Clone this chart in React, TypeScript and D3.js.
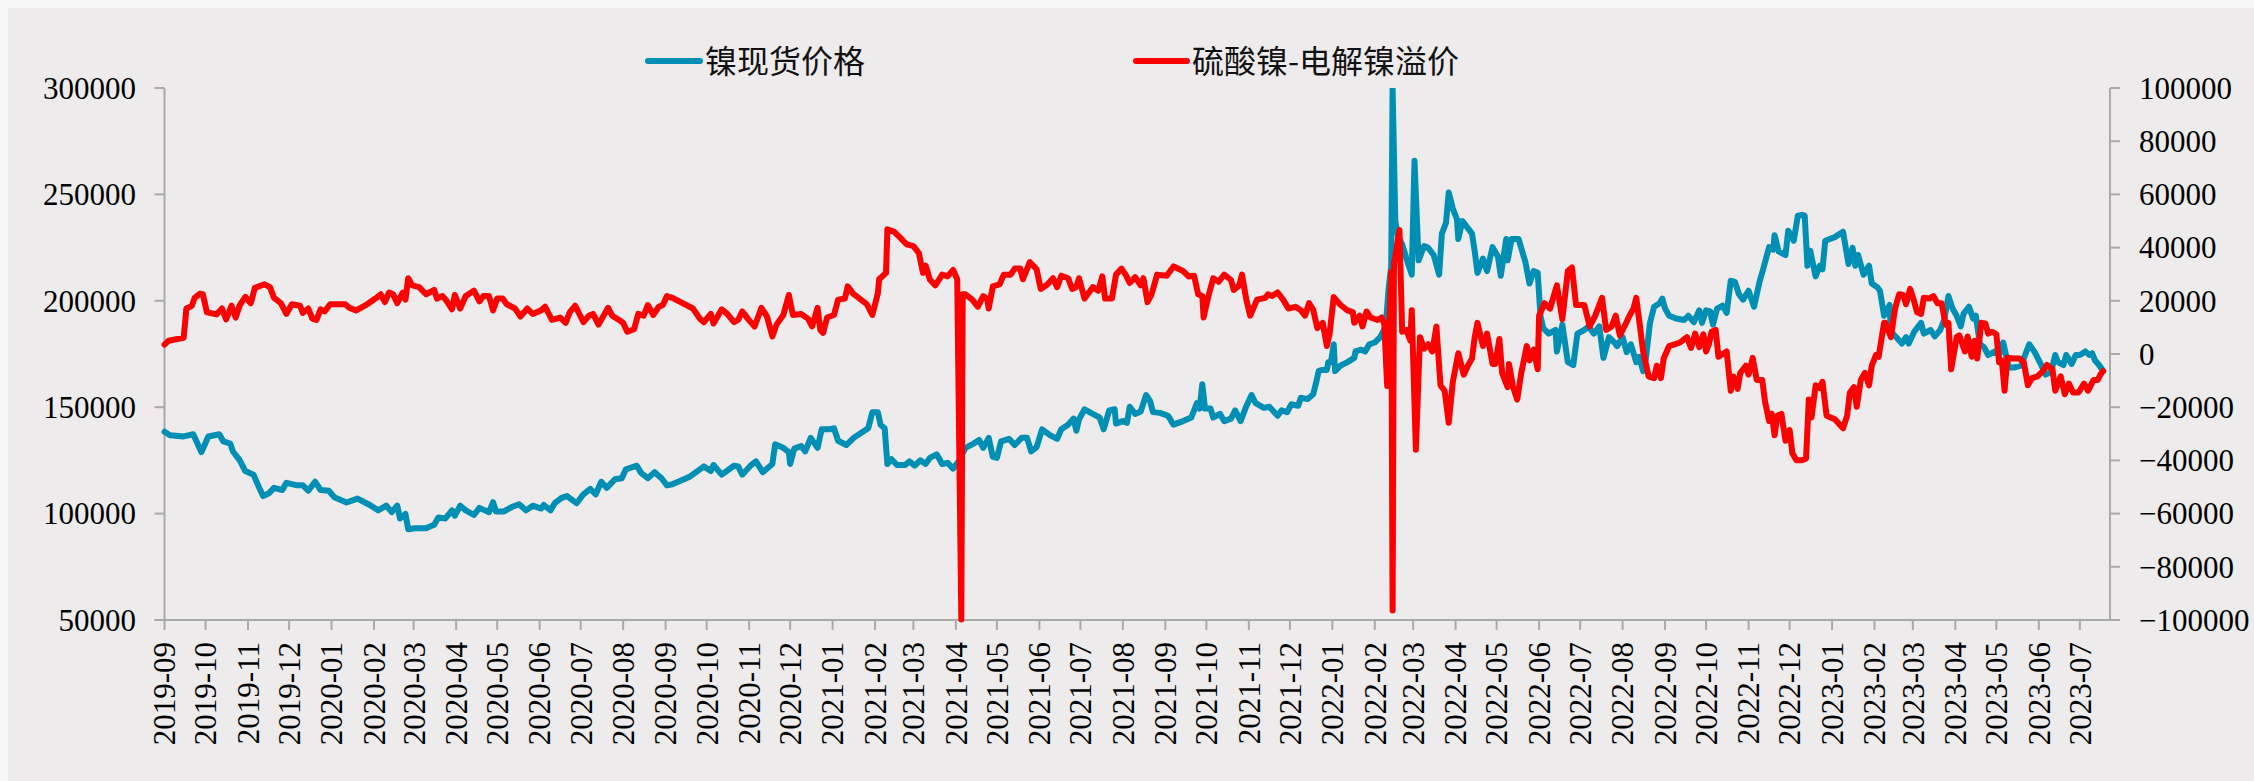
import React from 'react';
import * as d3 from 'd3';

// ---------- DATA ----------
const seriesNames = ['镍现货价格', '硫酸镍-电解镍溢价'];
const seriesColors = ['#008fb4', '#ff0000'];

const monthTicks = [
  '2019-09','2019-10','2019-11','2019-12','2020-01','2020-02','2020-03','2020-04','2020-05','2020-06',
  '2020-07','2020-08','2020-09','2020-10','2020-11','2020-12','2021-01','2021-02','2021-03','2021-04',
  '2021-05','2021-06','2021-07','2021-08','2021-09','2021-10','2021-11','2021-12','2022-01','2022-02',
  '2022-03','2022-04','2022-05','2022-06','2022-07','2022-08','2022-09','2022-10','2022-11','2022-12',
  '2023-01','2023-02','2023-03','2023-04','2023-05','2023-06','2023-07'
];
const leftTicks = [50000, 100000, 150000, 200000, 250000, 300000];
const rightTicks = [-100000, -80000, -60000, -40000, -20000, 0, 20000, 40000, 60000, 80000, 100000];
const dateRange = ['2019-09-01', '2023-07-23'];

// 镍现货价格 (left axis)
const nickelSpot: [string, number][] = [
['2019-09-01',138450],['2019-09-05',136770],['2019-09-15',136260],['2019-09-22',137270],['2019-09-28',128880],
['2019-10-03',136260],['2019-10-11',137270],['2019-10-14',133900],['2019-10-19',132900],['2019-10-21',129200],
['2019-10-26',125000],['2019-10-30',120000],['2019-11-05',118300],['2019-11-09',112400],['2019-11-12',108240],
['2019-11-16',109410],['2019-11-20',112100],['2019-11-26',111090],['2019-11-29',114440],['2019-12-07',113270],
['2019-12-11',113270],['2019-12-15',110750],['2019-12-20',114950],['2019-12-24',111090],['2019-12-30',110750],
['2020-01-03',107740],['2020-01-12',105200],['2020-01-20',107060],['2020-01-29',104050],['2020-02-04',101520],
['2020-02-10',103710],['2020-02-14',100690],['2020-02-18',103710],['2020-02-20',97660],['2020-02-24',99850],
['2020-02-26',92630],['2020-03-02',93130],['2020-03-10',93130],['2020-03-16',94800],['2020-03-19',98160],
['2020-03-24',97660],['2020-03-29',101520],['2020-03-31',99000],['2020-04-04',103710],['2020-04-08',101520],
['2020-04-14',99340],['2020-04-18',102700],['2020-04-22',101520],['2020-04-25',100690],['2020-04-28',105380],
['2020-04-30',101030],['2020-05-06',101030],['2020-05-12',103200],['2020-05-17',104380],['2020-05-22',101520],
['2020-05-27',103710],['2020-06-02',102360],['2020-06-04',104040],['2020-06-09',101520],['2020-06-12',104880],
['2020-06-17',107400],['2020-06-21',108240],['2020-06-28',104880],['2020-07-03',109080],['2020-07-08',111600],
['2020-07-12',109080],['2020-07-16',114950],['2020-07-20',112100],['2020-07-26',116120],['2020-07-31',116630],
['2020-08-03',120830],['2020-08-11',122500],['2020-08-14',119150],['2020-08-19',116630],['2020-08-24',119480],
['2020-08-29',116630],['2020-09-02',113270],['2020-09-06',113770],['2020-09-19',117460],['2020-09-29',122170],
['2020-10-04',119990],['2020-10-06',122840],['2020-10-12',118300],['2020-10-21',122500],['2020-10-24',122170],
['2020-10-27',118300],['2020-11-02',122500],['2020-11-06',124520],['2020-11-11',119480],['2020-11-18',123340],
['2020-11-20',132570],['2020-11-26',130890],['2020-11-30',128880],['2020-12-01',123340],['2020-12-04',130560],
['2020-12-09',131730],['2020-12-12',129210],['2020-12-16',135590],['2020-12-21',130890],['2020-12-24',139620],
['2020-12-30',139620],['2021-01-02',140120],['2021-01-05',134250],['2021-01-11',132240],['2021-01-17',135930],
['2021-01-27',140120],['2021-01-30',147680],['2021-02-03',147680],['2021-02-05',141800],['2021-02-08',140120],
['2021-02-10',123340],['2021-02-13',125520],['2021-02-17',122840],['2021-02-23',122840],['2021-02-26',124520],
['2021-03-02',122500],['2021-03-06',125020],['2021-03-10',123340],['2021-03-13',126190],['2021-03-18',127870],
['2021-03-22',123340],['2021-03-26',123840],['2021-03-30',121150],['2021-04-03',124520],['2021-04-08',130890],
['2021-04-14',132900],['2021-04-18',134580],['2021-04-21',130890],['2021-04-25',135590],['2021-04-28',126690],
['2021-05-01',126190],['2021-05-04',133910],['2021-05-10',135090],['2021-05-14',132240],['2021-05-19',135590],
['2021-05-23',135590],['2021-05-26',129210],['2021-05-30',131230],['2021-06-03',139620],['2021-06-09',136770],
['2021-06-14',135090],['2021-06-17',139620],['2021-06-22',141800],['2021-06-26',144660],['2021-06-28',138950],
['2021-06-30',144320],['2021-07-04',149020],['2021-07-10',146840],['2021-07-15',145160],['2021-07-18',139620],
['2021-07-22',148510],['2021-07-26',149020],['2021-07-27',142310],['2021-08-01',143480],['2021-08-04',142640],
['2021-08-06',150190],['2021-08-10',146840],['2021-08-14',148010],['2021-08-18',155730],['2021-08-21',152710],
['2021-08-23',147680],['2021-08-28',147340],['2021-09-03',146000],['2021-09-07',141800],['2021-09-14',143480],
['2021-09-20',145160],['2021-09-24',151870],['2021-09-26',149360],['2021-09-28',160770],['2021-09-30',149360],
['2021-10-04',149360],['2021-10-06',145160],['2021-10-11',146840],['2021-10-14',143480],['2021-10-19',144660],
['2021-10-22',148510],['2021-10-26',143480],['2021-10-30',150190],['2021-11-03',155730],['2021-11-06',151870],
['2021-11-12',149690],['2021-11-16',150190],['2021-11-22',146000],['2021-11-25',148510],['2021-11-29',147680],
['2021-12-02',151370],['2021-12-07',150700],['2021-12-09',154390],['2021-12-14',153890],['2021-12-18',156070],
['2021-12-20',161100],['2021-12-22',166980],['2021-12-24',167480],['2021-12-28',167480],['2021-12-29',171170],
['2021-12-31',171170],['2022-01-02',179570],['2022-01-03',166980],['2022-01-07',169500],['2022-01-12',171170],
['2022-01-17',173180],['2022-01-18',176200],['2022-01-22',177040],['2022-01-25',176200],['2022-01-28',179570],
['2022-02-01',180410],['2022-02-05',182920],['2022-02-09',188000],['2022-02-11',205000],['2022-02-13',216480],
['2022-02-14',300000],['2022-02-16',237470],['2022-02-18',230000],['2022-02-21',226560],['2022-02-25',218000],
['2022-02-28',212290],['2022-03-02',265800],['2022-03-05',219000],['2022-03-09',225720],['2022-03-12',224880],
['2022-03-16',221520],['2022-03-20',212290],['2022-03-22',231590],['2022-03-25',236620],['2022-03-27',250890],
['2022-03-30',243340],['2022-04-02',238310],['2022-04-03',229070],['2022-04-06',237470],['2022-04-09',234950],
['2022-04-13',231590],['2022-04-15',223200],['2022-04-17',213130],['2022-04-21',219840],['2022-04-24',213970],
['2022-04-28',225220],['2022-05-02',220680],['2022-05-04',211790],['2022-05-08',229070],['2022-05-09',219000],
['2022-05-12',229070],['2022-05-17',229070],['2022-05-22',218170],['2022-05-25',208100],['2022-05-28',213970],
['2022-05-31',213130],['2022-06-02',192990],['2022-06-04',187120],['2022-06-08',184600],['2022-06-13',186280],
['2022-06-14',176200],['2022-06-18',188790],['2022-06-22',171170],['2022-06-26',169830],['2022-06-29',184600],
['2022-07-04',186280],['2022-07-07',187960],['2022-07-11',184600],['2022-07-15',187960],['2022-07-18',173180],
['2022-07-22',182920],['2022-07-26',180410],['2022-07-28',178730],['2022-08-01',182920],['2022-08-04',175870],
['2022-08-07',179570],['2022-08-11',171170],['2022-08-13',173690],['2022-08-16',166980],['2022-08-18',172850],
['2022-08-21',189630],['2022-08-24',197200],['2022-08-28',198870],['2022-08-30',201050],['2022-09-01',196350],
['2022-09-04',192990],['2022-09-09',191650],['2022-09-15',190980],['2022-09-18',192990],['2022-09-22',189970],
['2022-09-26',195510],['2022-09-28',189630],['2022-10-01',195510],['2022-10-04',195000],['2022-10-06',188790],
['2022-10-09',196350],['2022-10-13',197690],['2022-10-16',194330],['2022-10-19',209430],['2022-10-22',208930],
['2022-10-25',203060],['2022-10-28',200540],['2022-11-01',204740],['2022-11-05',197190],['2022-11-09',208930],
['2022-11-12',215640],['2022-11-16',225220],['2022-11-19',224040],['2022-11-20',230760],['2022-11-23',223200],
['2022-11-28',221520],['2022-11-30',232940],['2022-12-04',228240],['2022-12-07',239980],['2022-12-10',240320],
['2022-12-12',239980],['2022-12-14',216480],['2022-12-16',223530],['2022-12-20',211450],['2022-12-23',216480],
['2022-12-25',214810],['2022-12-27',228240],['2023-01-03',229920],['2023-01-09',232440],['2023-01-13',217330],
['2023-01-16',224880],['2023-01-18',216480],['2023-01-20',221520],['2023-01-24',212290],['2023-01-28',216480],
['2023-01-30',208100],['2023-02-03',206420],['2023-02-05',204740],['2023-02-08',192990],['2023-02-12',198030],
['2023-02-13',185440],['2023-02-18',182080],['2023-02-21',179900],['2023-02-24',182920],['2023-02-26',179900],
['2023-03-02',185440],['2023-03-07',189630],['2023-03-09',184600],['2023-03-14',186280],['2023-03-17',183260],
['2023-03-21',186280],['2023-03-24',191310],['2023-03-27',202220],['2023-03-30',196350],['2023-04-02',192990],
['2023-04-05',187960],['2023-04-07',193830],['2023-04-11',197190],['2023-04-14',191650],['2023-04-16',192990],
['2023-04-19',179570],['2023-04-22',178230],['2023-04-25',174530],['2023-04-30',176200],['2023-05-03',174530],
['2023-05-06',180410],['2023-05-10',168650],['2023-05-14',168650],['2023-05-19',169500],['2023-05-22',174530],
['2023-05-25',179570],['2023-05-29',175870],['2023-06-03',169500],['2023-06-06',165300],['2023-06-10',166480],
['2023-06-13',174530],['2023-06-15',171170],['2023-06-19',169830],['2023-06-21',174530],['2023-06-25',170330],
['2023-06-28',174530],['2023-07-01',174530],['2023-07-05',176200],['2023-07-08',174530],['2023-07-10',175370],
['2023-07-12',172010],['2023-07-15',169830],['2023-07-18',167000]
];

// 硫酸镍-电解镍溢价 (right axis)
const premium: [string, number][] = [
['2019-09-01',3500],['2019-09-04',5000],['2019-09-15',6100],['2019-09-17',17100],['2019-09-21',18100],
['2019-09-23',21100],['2019-09-27',22700],['2019-09-29',22450],['2019-10-02',15700],['2019-10-09',14900],
['2019-10-13',17100],['2019-10-16',13000],['2019-10-20',18150],['2019-10-23',13700],['2019-10-26',18400],
['2019-10-30',21500],['2019-11-03',19100],['2019-11-06',24870],['2019-11-13',26200],['2019-11-17',25140],
['2019-11-20',21100],['2019-11-25',19100],['2019-11-29',15070],['2019-12-03',18700],['2019-12-09',18150],
['2019-12-11',15470],['2019-12-15',17100],['2019-12-18',13300],['2019-12-21',12800],['2019-12-24',16800],
['2019-12-27',16000],['2019-12-31',18700],['2020-01-11',18700],['2020-01-14',17350],['2020-01-19',16400],
['2020-01-27',18700],['2020-02-02',20840],['2020-02-06',22450],['2020-02-09',19500],['2020-02-12',23100],
['2020-02-15',22450],['2020-02-18',19100],['2020-02-22',23100],['2020-02-24',20400],['2020-02-26',28500],
['2020-02-29',25800],['2020-03-05',25140],['2020-03-10',22450],['2020-03-16',24060],['2020-03-18',20840],
['2020-03-22',21800],['2020-03-25',20000],['2020-03-29',16800],['2020-03-31',22200],['2020-04-04',17100],
['2020-04-08',21800],['2020-04-14',23800],['2020-04-18',19800],['2020-04-21',21800],['2020-04-25',21800],
['2020-04-28',16400],['2020-05-01',20840],['2020-05-05',20840],['2020-05-08',18700],['2020-05-14',17100],
['2020-05-18',14100],['2020-05-23',17100],['2020-05-27',15070],['2020-06-02',16400],['2020-06-05',17750],
['2020-06-10',12800],['2020-06-16',13700],['2020-06-20',11700],['2020-06-23',15700],['2020-06-27',18150],
['2020-07-03',11980],['2020-07-07',14400],['2020-07-10',15070],['2020-07-14',11040],['2020-07-21',17350],
['2020-07-24',14400],['2020-07-29',12800],['2020-08-01',11700],['2020-08-04',8350],['2020-08-09',9300],
['2020-08-12',15070],['2020-08-16',14400],['2020-08-19',18400],['2020-08-23',14670],['2020-08-27',17750],
['2020-08-30',18400],['2020-09-02',21800],['2020-09-06',21100],['2020-09-21',17100],['2020-09-26',13300],
['2020-09-29',11980],['2020-10-04',15070],['2020-10-06',11450],['2020-10-12',16800],['2020-10-16',15070],
['2020-10-21',11980],['2020-10-24',12800],['2020-10-27',16000],['2020-10-31',13300],['2020-11-05',10370],
['2020-11-10',17350],['2020-11-14',14130],['2020-11-18',6600],['2020-11-21',11040],['2020-11-26',14670],
['2020-11-30',22200],['2020-12-03',14670],['2020-12-09',15070],['2020-12-14',13300],['2020-12-17',10370],
['2020-12-21',17350],['2020-12-23',9030],['2020-12-25',7950],['2020-12-28',13700],['2021-01-02',14670],
['2021-01-05',20440],['2021-01-10',20840],['2021-01-12',25410],['2021-01-16',22720],['2021-01-26',18700],
['2021-01-30',14670],['2021-02-03',22720],['2021-02-04',28090],['2021-02-09',30500],['2021-02-10',46890],
['2021-02-15',45950],['2021-02-19',43930],['2021-02-24',41250],['2021-03-01',40580],['2021-03-05',37900],
['2021-03-08',30500],['2021-03-10',33190],['2021-03-13',28000],['2021-03-17',25810],['2021-03-22',29840],
['2021-03-26',29170],['2021-03-30',31580],['2021-04-02',28090],['2021-04-05',-99800],['2021-04-06',22450],
['2021-04-08',22450],['2021-04-13',20440],['2021-04-17',17750],['2021-04-21',21780],['2021-04-24',20440],
['2021-04-25',17080],['2021-04-28',25410],['2021-05-03',26210],['2021-05-06',29840],['2021-05-11',29840],
['2021-05-14',32120],['2021-05-18',32120],['2021-05-20',28090],['2021-05-25',34530],['2021-05-30',31850],
['2021-06-02',24460],['2021-06-07',26210],['2021-06-11',28490],['2021-06-14',25140],['2021-06-17',29430],
['2021-06-22',28490],['2021-06-25',24460],['2021-06-28',25140],['2021-06-30',28490],['2021-07-04',20840],
['2021-07-10',25140],['2021-07-14',23790],['2021-07-17',29170],['2021-07-19',20840],['2021-07-24',20840],
['2021-07-27',29840],['2021-07-31',32120],['2021-08-03',29840],['2021-08-06',26750],['2021-08-10',28900],
['2021-08-14',25810],['2021-08-16',28490],['2021-08-19',19500],['2021-08-22',22450],['2021-08-26',29840],
['2021-09-02',29430],['2021-09-07',32920],['2021-09-14',31180],['2021-09-18',29170],['2021-09-22',29430],
['2021-09-25',22450],['2021-09-28',21780],['2021-09-29',13730],['2021-10-02',20840],['2021-10-06',28490],
['2021-10-10',27150],['2021-10-14',29840],['2021-10-19',27820],['2021-10-21',24060],['2021-10-25',25810],
['2021-10-27',29840],['2021-10-30',20840],['2021-11-02',14400],['2021-11-07',20440],['2021-11-13',21110],
['2021-11-15',22450],['2021-11-18',21780],['2021-11-22',23120],['2021-11-26',20440],['2021-11-30',17080],
['2021-12-05',17750],['2021-12-09',16410],['2021-12-12',14400],['2021-12-15',19100],['2021-12-18',16700],
['2021-12-21',9700],['2021-12-25',11710],['2021-12-28',2980],['2021-12-30',7680],['2022-01-02',21380],
['2022-01-07',18420],['2022-01-12',16410],['2022-01-16',15740],['2022-01-17',11710],['2022-01-21',14400],
['2022-01-23',10370],['2022-01-26',16000],['2022-01-29',13730],['2022-02-03',12790],['2022-02-06',13730],
['2022-02-08',11000],['2022-02-10',-12000],['2022-02-13',30830],['2022-02-14',-96400],['2022-02-15',33720],
['2022-02-19',46650],['2022-02-21',8350],['2022-02-24',9030],['2022-02-27',4990],['2022-02-28',16410],
['2022-03-03',-35950],['2022-03-06',6340],['2022-03-09',2040],['2022-03-12',3660],['2022-03-15',970],
['2022-03-18',10370],['2022-03-21',-11780],['2022-03-24',-13800],['2022-03-27',-25880],['2022-03-30',-10440],
['2022-04-03',300],['2022-04-07',-7760],['2022-04-10',-4400],['2022-04-13',-1720],['2022-04-15',6340],
['2022-04-17',11710],['2022-04-21',2980],['2022-04-24',7680],['2022-04-28',-3730],['2022-04-30',-3730],
['2022-05-03',5670],['2022-05-05',-7090],['2022-05-09',-12460],['2022-05-10',-3730],['2022-05-13',-12460],
['2022-05-16',-17150],['2022-05-19',-7090],['2022-05-23',2980],['2022-05-25',-2390],['2022-05-28',1640],
['2022-05-31',-5740],['2022-06-01',14400],['2022-06-05',19100],['2022-06-09',17080],['2022-06-14',25810],
['2022-06-18',13060],['2022-06-22',31180],['2022-06-25',32520],['2022-06-28',18420],['2022-07-04',18420],
['2022-07-08',10370],['2022-07-12',14400],['2022-07-17',21110],['2022-07-20',9030],['2022-07-24',10370],
['2022-07-27',14400],['2022-07-30',7010],['2022-08-03',11040],['2022-08-06',14400],['2022-08-09',17080],
['2022-08-11',21110],['2022-08-14',9030],['2022-08-16',970],['2022-08-20',-8430],['2022-08-24',-9100],
['2022-08-26',-4400],['2022-08-29',-9100],['2022-08-31',-1720],['2022-09-04',2980],['2022-09-12',4330],
['2022-09-17',6340],['2022-09-20',2300],['2022-09-23',7680],['2022-09-26',2580],['2022-09-29',7420],
['2022-10-01',970],['2022-10-03',3660],['2022-10-05',8350],['2022-10-08',9030],['2022-10-10',-1040],
['2022-10-14',300],['2022-10-16',970],['2022-10-19',-13800],['2022-10-21',-8430],['2022-10-24',-13120],
['2022-10-26',-7090],['2022-10-30',-4400],['2022-11-01',-7760],['2022-11-04',-1450],['2022-11-07',-9770],
['2022-11-11',-9770],['2022-11-13',-17830],['2022-11-16',-25210],['2022-11-18',-22520],['2022-11-20',-30580],
['2022-11-22',-23190],['2022-11-25',-22520],['2022-11-28',-32600],['2022-12-01',-28570],['2022-12-03',-37300],
['2022-12-06',-39980],['2022-12-10',-39980],['2022-12-13',-39310],['2022-12-15',-17150],['2022-12-17',-23870],
['2022-12-20',-11780],['2022-12-23',-12720],['2022-12-25',-10440],['2022-12-28',-23190],['2023-01-03',-24540],
['2023-01-09',-27900],['2023-01-12',-23190],['2023-01-14',-14470],['2023-01-17',-12460],['2023-01-19',-19840],
['2023-01-22',-9770],['2023-01-25',-7090],['2023-01-28',-11780],['2023-01-30',-4400],['2023-02-02',-370],
['2023-02-04',-1040],['2023-02-08',11710],['2023-02-09',11710],['2023-02-13',6340],['2023-02-16',17080],
['2023-02-19',22450],['2023-02-22',22180],['2023-02-24',18700],['2023-02-27',24460],['2023-03-02',19770],
['2023-03-04',15740],['2023-03-07',15070],['2023-03-09',21110],['2023-03-13',20840],['2023-03-16',21780],
['2023-03-19',19100],['2023-03-22',19100],['2023-03-25',11040],['2023-03-27',11710],['2023-03-29',-5740],
['2023-04-02',6340],['2023-04-04',7010],['2023-04-08',970],['2023-04-10',6600],['2023-04-13',-1040],
['2023-04-15',4990],['2023-04-17',-1720],['2023-04-20',11710],['2023-04-23',11440],['2023-04-25',7680],
['2023-04-28',8350],['2023-05-01',7420],['2023-05-03',-3060],['2023-05-05',-2390],['2023-05-07',-13800],
['2023-05-09',-1450],['2023-05-14',-1720],['2023-05-18',-1720],['2023-05-21',-3060],['2023-05-24',-11780],
['2023-05-27',-9100],['2023-05-31',-8430],['2023-06-04',-6410],['2023-06-07',-4130],['2023-06-11',-5740],
['2023-06-13',-13800],['2023-06-17',-8430],['2023-06-20',-15140],['2023-06-23',-11110],['2023-06-26',-14470],
['2023-06-30',-14470],['2023-07-04',-11110],['2023-07-07',-13800],['2023-07-11',-9770],['2023-07-14',-9770],
['2023-07-16',-7760],['2023-07-18',-6400]
];

// ---------- CHART ----------
const W = 2254;
const H = 781;
const plot = { left: 164.5, right: 2110, top: 88, bottom: 620 };
const axisColor = '#a9a9a9';
const numFont = '"Liberation Serif", "Times New Roman", serif';
const cjkFont = '"Noto Sans CJK SC", "Noto Sans", sans-serif';

export default function App() {
  const parse = d3.timeParse('%Y-%m-%d');
  const x = d3.scaleTime()
    .domain([parse(dateRange[0]) as Date, parse(dateRange[1]) as Date])
    .range([plot.left, plot.right]);
  const yL = d3.scaleLinear().domain([50000, 300000]).range([plot.bottom, plot.top]);
  const yR = d3.scaleLinear().domain([-100000, 100000]).range([plot.bottom, plot.top]);

  const lineL = d3.line<[string, number]>()
    .x(d => x(parse(d[0]) as Date))
    .y(d => yL(d[1]));
  const lineR = d3.line<[string, number]>()
    .x(d => x(parse(d[0]) as Date))
    .y(d => yR(d[1]));

  return (
    <svg width={W} height={H} style={{ position: 'absolute', left: 0, top: 0, display: 'block' }}>
      <rect x={0} y={0} width={W} height={H} fill="#f7f7f7" />
      <rect x={8} y={8} width={W - 8} height={H - 8} fill="#edebec" />
      <defs>
        <clipPath id="plotClip">
          <rect x={plot.left - 4} y={plot.top} width={plot.right - plot.left + 8} height={plot.bottom - plot.top + 4} />
        </clipPath>
      </defs>

      {/* axes */}
      <line x1={plot.left} x2={plot.left} y1={plot.top} y2={plot.bottom} stroke={axisColor} strokeWidth={2} />
      <line x1={plot.right} x2={plot.right} y1={plot.top} y2={plot.bottom} stroke={axisColor} strokeWidth={2} />
      <line x1={plot.left - 10} x2={plot.right} y1={plot.bottom} y2={plot.bottom} stroke={axisColor} strokeWidth={2} />

      {leftTicks.map(v => (
        <g key={'l' + v}>
          <line x1={plot.left - 10} x2={plot.left} y1={yL(v)} y2={yL(v)} stroke={axisColor} strokeWidth={2} />
          <text x={136} y={yL(v)} dy="0.35em" textAnchor="end" fontFamily={numFont} fontSize={31} fill="#000">{v}</text>
        </g>
      ))}
      {rightTicks.map(v => (
        <g key={'r' + v}>
          <line x1={plot.right} x2={plot.right + 10} y1={yR(v)} y2={yR(v)} stroke={axisColor} strokeWidth={2} />
          <text x={2139} y={yR(v)} dy="0.35em" textAnchor="start" fontFamily={numFont} fontSize={31} fill="#000">{v < 0 ? '\u2212' + Math.abs(v) : v}</text>
        </g>
      ))}
      {monthTicks.map(m => {
        const xx = x(parse(m + '-01') as Date);
        return (
          <g key={'m' + m}>
            <line x1={xx} x2={xx} y1={plot.bottom} y2={plot.bottom + 10} stroke={axisColor} strokeWidth={2} />
            <text transform={`translate(${xx},642) rotate(-90)`} dy="0.35em" textAnchor="end" fontFamily={numFont} fontSize={31} fill="#000">{m}</text>
          </g>
        );
      })}

      {/* series */}
      <g clipPath="url(#plotClip)">
        <path d={lineL(nickelSpot) || ''} fill="none" stroke={seriesColors[0]} strokeWidth={6} strokeLinejoin="round" strokeLinecap="round" />
        <path d={lineR(premium) || ''} fill="none" stroke={seriesColors[1]} strokeWidth={6} strokeLinejoin="round" strokeLinecap="round" />
      </g>

      {/* legend */}
      <line x1={648} x2={700} y1={61} y2={61} stroke={seriesColors[0]} strokeWidth={6} strokeLinecap="round" />
      <text x={705} y={61} dy="0.36em" fontFamily={cjkFont} fontSize={32} fill="#111">{seriesNames[0]}</text>
      <line x1={1136} x2={1187} y1={61} y2={61} stroke={seriesColors[1]} strokeWidth={6} strokeLinecap="round" />
      <text x={1192} y={61} dy="0.36em" fontFamily={cjkFont} fontSize={32} fill="#111">{seriesNames[1]}</text>
    </svg>
  );
}
